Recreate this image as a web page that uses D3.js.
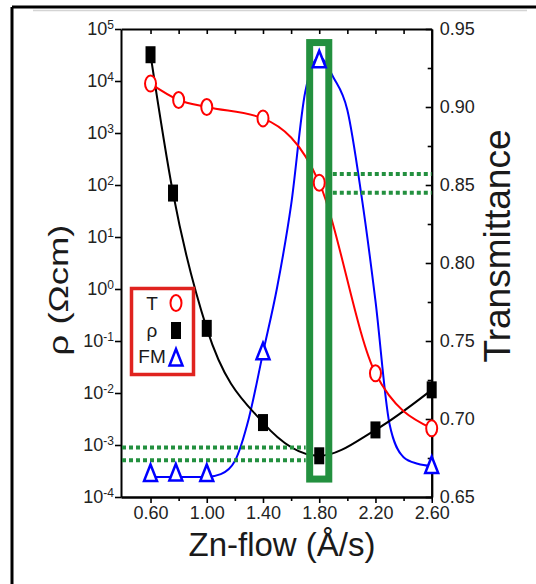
<!DOCTYPE html>
<html>
<head>
<meta charset="utf-8">
<script src="https://cdn.jsdelivr.net/npm/d3@7"></script>
<style>
  body { margin: 0; background: #fff; }
  svg { display: block; font-family: "Liberation Sans", Arial, sans-serif; }
</style>
</head>
<body>
<svg id="chart" width="536" height="584"></svg>
<script>
// Axis ticks
const flowTicks = [0.6, 1.0, 1.4, 1.8, 2.2, 2.6];
const flowMinorTicks = [0.8, 1.2, 1.6, 2.0, 2.4];
const rhoTicks = [1e-4, 1e-3, 1e-2, 1e-1, 1e0, 1e1, 1e2, 1e3, 1e4, 1e5];
const tTicks = [0.65, 0.70, 0.75, 0.80, 0.85, 0.90, 0.95];
const tMinorTicks = [0.675, 0.725, 0.775, 0.825, 0.875, 0.925];

// Transmittance (red circles)
const tFlow = [0.6, 0.8, 1.0, 1.4, 1.8, 2.2, 2.6];
const transmittance = [0.915, 0.9045, 0.900, 0.8927, 0.8515, 0.7293, 0.694];

// Resistivity in Ohm cm (black squares)
const rhoFlow = [0.6, 0.76, 1.0, 1.4, 1.8, 2.2, 2.6];
const rho = [3.2e4, 70, 0.175, 2.7e-3, 6.2e-4, 1.95e-3, 1.15e-2];

// Figure of merit, arbitrary units (blue triangles)
const fmFlow = [0.6, 0.78, 1.0, 1.4, 1.8, 2.6];
const fm = [0.046, 0.047, 0.046, 0.306, 0.93, 0.063];

// FM guide curve as it is drawn in the figure
const fmCurveFlow = [0.6, 1.0, 1.1, 1.2, 1.3, 1.4, 1.5, 1.6, 1.7, 1.8, 1.9, 2.0, 2.1, 2.2, 2.3, 2.4, 2.5, 2.6];
const fmCurve = [0.043, 0.043, 0.049, 0.077, 0.169, 0.308, 0.447, 0.624, 0.865, 0.94, 0.897, 0.827, 0.645, 0.419, 0.156, 0.085, 0.071, 0.066];

// Green highlight: box around the optimum and the bracket lines
const boxFlow = [1.732, 1.868];
const boxT = [0.6615, 0.9413];
const tBracket = [0.857, 0.845];
const rhoBracket = [9e-4, 5.1e-4];

const svg = d3.select("#chart");
const plotLeft = 121, plotRight = 431.7, plotTop = 29, plotBottom = 497;
const green = "#23903f";

const x = d3.scaleLinear().domain([0.39, 2.6]).range([plotLeft, plotRight]);
const yRho = d3.scaleLog().domain([1e-4, 1e5]).range([plotBottom, plotTop]);
const yT = d3.scaleLinear().domain([0.65, 0.95]).range([plotBottom, plotTop]);
const yFm = d3.scaleLinear().domain([0, 1]).range([plotBottom, plotTop]);

// outer frame (left and top edges)
svg.append("line").attr("x1", 12).attr("y1", 7).attr("x2", 536).attr("y2", 7)
    .attr("stroke", "#000").attr("stroke-width", 3);
svg.append("line").attr("x1", 12).attr("y1", 7).attr("x2", 12).attr("y2", 584)
    .attr("stroke", "#000").attr("stroke-width", 3);
svg.append("line").attr("x1", 33).attr("y1", 10.5).attr("x2", 527).attr("y2", 10.5)
    .attr("stroke", "#d4d4d4").attr("stroke-width", 1.5);

function styleAxis(g) {
    g.selectAll("path.domain").attr("stroke", "#000").attr("stroke-width", 2);
    g.selectAll(".tick line").attr("stroke", "#000").attr("stroke-width", 1.6);
    g.selectAll(".tick text").attr("fill", "#222").attr("font-size", 18)
        .attr("font-family", "Liberation Sans, Arial, sans-serif");
}

// bottom axis
const gBottom = svg.append("g").attr("transform", `translate(0,${plotBottom})`)
    .call(d3.axisBottom(x).tickValues(flowTicks).tickFormat(d3.format(".2f"))
        .tickSize(6).tickSizeOuter(0).tickPadding(3));
styleAxis(gBottom);
const gBottomMinor = svg.append("g").attr("transform", `translate(0,${plotBottom})`)
    .call(d3.axisBottom(x).tickValues(flowMinorTicks).tickFormat("").tickSize(4).tickSizeOuter(0));
styleAxis(gBottomMinor);

// top axis, ticks only
const gTop = svg.append("g").attr("transform", `translate(0,${plotTop})`)
    .call(d3.axisTop(x).tickValues(flowMinorTicks.concat(flowTicks.slice(0, -1))).tickFormat("")
        .tickSize(-5).tickSizeOuter(0));
styleAxis(gTop);

// left log axis with 10^n labels
const gLeft = svg.append("g").attr("transform", `translate(${plotLeft},0)`)
    .call(d3.axisLeft(yRho).tickValues(rhoTicks).tickSize(6).tickSizeOuter(0).tickPadding(1));
styleAxis(gLeft);
gLeft.selectAll(".tick text").each(function (d) {
    const t = d3.select(this).text("");
    t.append("tspan").text("10");
    t.append("tspan").attr("dy", "-0.55em").attr("font-size", 12).text(Math.round(Math.log10(d)));
});

// right transmittance axis, ticks pointing inwards
const gRight = svg.append("g").attr("transform", `translate(${plotRight},0)`)
    .call(d3.axisRight(yT).tickValues(tTicks).tickFormat(d3.format(".2f"))
        .tickSize(-6).tickSizeOuter(0).tickPadding(8));
styleAxis(gRight);
const gRightMinor = svg.append("g").attr("transform", `translate(${plotRight},0)`)
    .call(d3.axisRight(yT).tickValues(tMinorTicks).tickFormat("").tickSize(-4).tickSizeOuter(0));
styleAxis(gRightMinor);

// axis titles
svg.append("text").attr("x", 282).attr("y", 556).attr("text-anchor", "middle")
    .attr("font-size", 33).attr("fill", "#1a1a1a").text("Zn-flow (Å/s)");
svg.append("text").attr("transform", "translate(68,290) rotate(-90) scale(1.35,1)")
    .attr("text-anchor", "middle").attr("font-size", 27).attr("fill", "#1a1a1a").text("ρ (Ωcm)");
svg.append("text").attr("transform", "translate(510,246) rotate(-90)")
    .attr("text-anchor", "middle").attr("font-size", 37).attr("fill", "#1a1a1a").text("Transmittance");

// curves
const fmLine = d3.line().x((d, i) => x(fmCurveFlow[i])).y(d => yFm(d)).curve(d3.curveMonotoneX);
svg.append("path").attr("d", fmLine(fmCurve)).attr("fill", "none")
    .attr("stroke", "#0000ff").attr("stroke-width", 2);

const rhoLine = d3.line().x((d, i) => x(rhoFlow[i])).y(d => yRho(d)).curve(d3.curveMonotoneX);
svg.append("path").attr("d", rhoLine(rho)).attr("fill", "none")
    .attr("stroke", "#000").attr("stroke-width", 2);

const tLine = d3.line().x((d, i) => x(tFlow[i])).y(d => yT(d)).curve(d3.curveMonotoneX);
svg.append("path").attr("d", tLine(transmittance)).attr("fill", "none")
    .attr("stroke", "#ff0000").attr("stroke-width", 2);

// green highlight
svg.append("rect")
    .attr("x", x(boxFlow[0])).attr("y", yT(boxT[1]))
    .attr("width", x(boxFlow[1]) - x(boxFlow[0])).attr("height", yT(boxT[0]) - yT(boxT[1]))
    .attr("fill", "none").attr("stroke", green).attr("stroke-width", 7);
tBracket.forEach(v => {
    svg.append("line").attr("x1", x(boxFlow[1]) + 4).attr("x2", plotRight)
        .attr("y1", yT(v)).attr("y2", yT(v))
        .attr("stroke", green).attr("stroke-width", 4).attr("stroke-dasharray", "4,3");
});
rhoBracket.forEach(v => {
    svg.append("line").attr("x1", plotLeft + 1).attr("x2", x(boxFlow[0]) - 4)
        .attr("y1", yRho(v)).attr("y2", yRho(v))
        .attr("stroke", green).attr("stroke-width", 4).attr("stroke-dasharray", "4,3");
});

// markers
const triangle = "M0,-11 L6.5,5.5 L-6.5,5.5 Z";
svg.selectAll(".fm").data(fm).enter().append("path")
    .attr("transform", (d, i) => `translate(${x(fmFlow[i])},${yFm(d)})`)
    .attr("d", triangle).attr("fill", "#fff").attr("stroke", "#0000ff").attr("stroke-width", 2.5);

svg.selectAll(".rho").data(rho).enter().append("rect")
    .attr("x", (d, i) => x(rhoFlow[i]) - 5).attr("y", d => yRho(d) - 8.5)
    .attr("width", 10).attr("height", 17).attr("fill", "#000");

svg.selectAll(".t").data(transmittance).enter().append("ellipse")
    .attr("cx", (d, i) => x(tFlow[i])).attr("cy", d => yT(d))
    .attr("rx", 5.5).attr("ry", 8).attr("fill", "#fff").attr("stroke", "#ff0000").attr("stroke-width", 2);

// legend
const legend = svg.append("g");
legend.append("rect").attr("x", 131.5).attr("y", 288.5).attr("width", 62).attr("height", 86)
    .attr("fill", "#fff").attr("stroke", "#e0231f").attr("stroke-width", 3.5);
const legendRows = [
    { label: "T", y: 303 },
    { label: "ρ", y: 330 },
    { label: "FM", y: 356 }
];
legendRows.forEach(r => {
    legend.append("text").attr("x", 152).attr("y", r.y).attr("dy", "0.35em")
        .attr("text-anchor", "middle").attr("font-size", 19).attr("fill", "#1a1a1a").text(r.label);
});
legend.append("ellipse").attr("cx", 176).attr("cy", 303).attr("rx", 5.5).attr("ry", 8)
    .attr("fill", "#fff").attr("stroke", "#ff0000").attr("stroke-width", 2);
legend.append("rect").attr("x", 171).attr("y", 322).attr("width", 10).attr("height", 17).attr("fill", "#000");
legend.append("path").attr("transform", "translate(176,360)").attr("d", triangle)
    .attr("fill", "#fff").attr("stroke", "#0000ff").attr("stroke-width", 2.5);
</script>
</body>
</html>
